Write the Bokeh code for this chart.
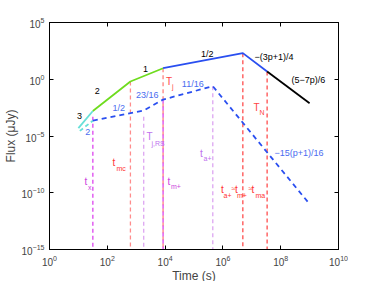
from bokeh.plotting import figure
from bokeh.models import LogAxis, FixedTicker, LogTickFormatter, CustomJSTickFormatter
from bokeh.core.properties import value
from bokeh.embed import file_html
from bokeh.resources import INLINE

# ---- data (log10 values) ----
# solid (forward shock) light curve segments
cyan_solid_t = [1.0, 1.5]
cyan_solid_f = [-4.3, -2.8]
green_t = [1.5, 2.8, 3.93]
green_f = [-2.8, -0.2, 0.97]
blue_solid_t = [3.93, 6.69, 7.53]
blue_solid_f = [0.97, 2.30, 0.68]
black_t = [7.53, 9.0]
black_f = [0.68, -2.11]
# dashed (reverse shock) light curve segments
cyan_dash_t = [1.05, 1.5]
cyan_dash_f = [-4.55, -3.65]
blue_dash_t = [1.5, 3.26, 3.93, 5.65, 9.0]
blue_dash_f = [-3.65, -2.75, -1.79, -0.61, -11.0]

# vertical break-time markers: log t, top log flux, colour
vline_t = [1.5, 2.8, 3.26, 3.93, 3.93, 5.65, 6.69, 7.53]
vline_top = [-3.3, -0.2, -3.3, 0.97, -1.79, -0.61, 2.30, 0.68]
vline_color = ["#dd44ee", "#ff8c8c", "#dda6f2", "#ff8080", "#dd44ee", "#dda6f2", "#ff4d4d", "#ff4d4d"]

x_ticks = [0, 2, 4, 6, 8, 10]
y_ticks = [-15, -10, -5, 0, 5]

# slope labels
black_lab = ["3", "2", "1", "1/2"]
black_lab_t = [1.038, 1.651, 3.322, 5.457]
black_lab_f = [-3.194, -1.079, 0.947, 2.181]
black_lab2 = ["\u2212(3p+1)/4", "(5\u22127p)/6"]
black_lab2_t = [7.093, 8.374]
black_lab2_f = [2.004, -0.110]
blue_lab = ["2", "1/2", "23/16", "11/16"]
blue_lab_t = [1.325, 2.398, 3.381, 4.958]
blue_lab_f = [-4.665, -2.489, -1.370, -0.401]
blue_lab2 = ["\u221215(p+1)/16"]
blue_lab2_t = [7.785]
blue_lab2_f = [-6.454]

FONT = "Liberation Sans"

def P(v):
    return [10 ** a for a in v]

p = figure(x_axis_type="log", y_axis_type="log",
           x_range=(1, 1e10), y_range=(1e-15, 1e5),
           frame_width=289, frame_height=227,
           min_border_left=30, min_border_top=22, min_border_right=10, min_border_bottom=5,
           output_backend="svg", toolbar_location=None)
p.grid.visible = False
p.outline_line_color = "black"
p.outline_line_width = 1
p.background_fill_color = "white"
p.border_fill_color = "white"

for ax, ticks in ((p.xaxis[0], x_ticks), (p.yaxis[0], y_ticks)):
    ax.ticker = FixedTicker(ticks=[10 ** t for t in ticks], minor_ticks=[])
    ax.formatter = LogTickFormatter()
    ax.major_tick_in = 4
    ax.major_tick_out = 0
    ax.minor_tick_in = 0
    ax.minor_tick_out = 0
    ax.major_label_text_font = FONT
    ax.major_label_text_font_size = "10px"
    ax.axis_label_text_font = FONT
    ax.axis_label_text_font_size = "12px"
    ax.axis_label_text_font_style = "normal"
    ax.axis_line_color = "black"
    ax.major_tick_line_color = "black"

p.xaxis.axis_label = "Time (s)"
p.yaxis.axis_label = "Flux (\u03bcJy)"
p.xaxis.major_label_standoff = 5
p.yaxis.major_label_standoff = 5
p.xaxis.axis_label_standoff = 0
p.yaxis.axis_label_standoff = 1

for loc, ticks in (("above", x_ticks), ("right", y_ticks)):
    ax = LogAxis(ticker=FixedTicker(ticks=[10 ** t for t in ticks], minor_ticks=[]),
                 formatter=CustomJSTickFormatter(code="return ''"),
                 major_tick_in=4, major_tick_out=0, minor_tick_in=0, minor_tick_out=0,
                 major_label_standoff=0, major_label_text_font_size="1px")
    p.add_layout(ax, loc)

# vertical dashed markers
p.segment(x0=P(vline_t), y0=P(vline_top), x1=P(vline_t), y1=[1e-15] * len(vline_t),
          line_color=vline_color, line_width=1.3, line_dash="4 3")

# dashed curves
p.line(P(cyan_dash_t), P(cyan_dash_f), line_color="#66e0d8", line_width=1.8, line_dash="4 3")
p.line(P(blue_dash_t), P(blue_dash_f), line_color="#2a4ff0", line_width=1.8, line_dash="5 4")

# solid curves
p.line(P(cyan_solid_t), P(cyan_solid_f), line_color="#66e0d8", line_width=1.8)
p.line(P(green_t), P(green_f), line_color="#6fdc1f", line_width=1.8)
p.line(P(blue_solid_t), P(blue_solid_f), line_color="#2a4ff0", line_width=1.8)
p.line(P(black_t), P(black_f), line_color="black", line_width=1.8)

# slope labels
p.text(P(black_lab_t), P(black_lab_f), text=black_lab, text_font=value(FONT),
       text_font_size="9px", text_align="center", text_baseline="middle", text_color="black")
p.text(P(black_lab2_t), P(black_lab2_f), text=black_lab2, text_font=value(FONT),
       text_font_size="9px", text_align="left", text_baseline="middle", text_color="black")
p.text(P(blue_lab_t), P(blue_lab_f), text=blue_lab, text_font=value(FONT),
       text_font_size="9px", text_align="center", text_baseline="middle", text_color="#4a6cf0")
p.text(P(blue_lab2_t), P(blue_lab2_f), text=blue_lab2, text_font=value(FONT),
       text_font_size="9px", text_align="left", text_baseline="middle", text_color="#4a6cf0")

# time-scale labels with subscripts: anchor (log t, log F), colour, pieces (text, dx, dy, is_sub)
time_labels = [
    (4.031, -0.198, "#ff4444", [("T", 0, 0, False), ("j", 6, 5, True)]),
    (7.059, -2.489, "#ff4444", [("T", 0, 0, False), ("N", 6, 5, True)]),
    (2.180, -7.335, "#ff3333", [("t", 0, 0, False), ("mc", 4, 6, True)]),
    (1.211, -9.009, "#cc44dd", [("t", 0, 0, False), ("x", 3.5, 5.5, True)]),
    (3.356, -5.088, "#c070ee", [("T", 0, 0, False), ("j,RS", 5, 6.5, True)]),
    (4.083, -9.009, "#cc44dd", [("t", 0, 0, False), ("m+", 3.5, 5, True)]),
    (5.208, -6.542, "#c070ee", [("t", 0, 0, False), ("a+", 3.5, 5, True)]),
    (5.934, -9.714, "#ff3333", [("t", 0, 0, False), ("a+", 2.5, 6, True), ("\u2248", 10.5, -1, True),
                                ("t", 14, 0, False), ("m+", 16, 6, True), ("\u2248", 27.5, -1, True),
                                ("t", 30.5, 0, False), ("ma", 34.5, 6, True)]),
]
for lt, lf, col, pieces in time_labels:
    for txt, dx, dy, sub in pieces:
        p.text([10 ** lt], [10 ** lf], text=[txt], x_offset=dx, y_offset=dy,
               text_font=value(FONT), text_font_size="7px" if sub else "10px",
               text_align="left", text_baseline="middle", text_color=col)

open("out.html", "w").write(file_html(p, INLINE))
